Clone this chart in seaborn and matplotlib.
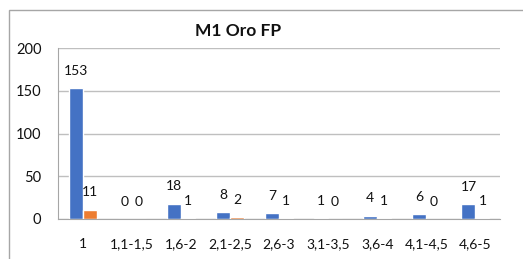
import matplotlib
matplotlib.use("Agg")
import matplotlib.pyplot as plt
import seaborn as sns
import pandas as pd
from matplotlib.patches import Rectangle

categories = ['1', '1,1-1,5', '1,6-2', '2,1-2,5', '2,6-3', '3,1-3,5', '3,6-4', '4,1-4,5', '4,6-5']
serie1 = [153, 0, 18, 8, 7, 1, 4, 6, 17]
serie2 = [11, 0, 1, 2, 1, 0, 1, 0, 1]
series_names = ['Serie1', 'Serie2']
colors = ['#4472C4', '#ED7D31']

df = pd.DataFrame({
    'cat': categories * 2,
    'val': serie1 + serie2,
    'serie': [series_names[0]] * len(categories) + [series_names[1]] * len(categories),
})

sns.set_style('white')
plt.rcParams['font.family'] = ['Lato', 'DejaVu Sans']

fig = plt.figure(figsize=(5.23, 2.59), dpi=100)
ax = fig.add_axes([58 / 523, 1 - 219 / 259, (500 - 58) / 523, (219 - 48) / 259])

sns.barplot(data=df, x='cat', y='val', hue='serie', palette=colors, width=0.57,
            ax=ax, legend=False, saturation=1)

for cont in ax.containers:
    ax.bar_label(cont, padding=8, fontsize=10, color='#111111')

ax.set_ylim(0, 200)
ax.set_yticks([0, 50, 100, 150, 200])
ax.set_xlim(-0.5, len(categories) - 0.5)
ax.set_xlabel('')
ax.set_ylabel('')
ax.yaxis.grid(True, color='#BFBFBF', linewidth=1)
ax.set_axisbelow(True)
for s in ['top', 'right']:
    ax.spines[s].set_visible(False)
ax.spines['left'].set_color('#A6A6A6')
ax.spines['bottom'].set_color('#A6A6A6')
ax.tick_params(axis='y', length=0, labelsize=10.5, labelcolor='#111111', pad=12)
ax.tick_params(axis='x', length=0, labelsize=10, labelcolor='#111111', pad=14)
# boundary ticks between categories
ax.set_xticks([i - 0.5 for i in range(len(categories) + 1)], minor=True)
ax.tick_params(axis='x', which='minor', length=5, color='#A6A6A6', direction='out')

fig.text(238 / 523, 1 - 31 / 259, 'M1 Oro FP', ha='center', va='center',
         fontsize=12.5, fontweight='bold', color='#111111')

fig.patches.append(Rectangle((9 / 523, -0.1), 1.2, 1 - 10 / 259 + 0.1,
                             transform=fig.transFigure, fill=False,
                             edgecolor='#A6A6A6', linewidth=1))

fig.savefig('out.png', dpi=100)
